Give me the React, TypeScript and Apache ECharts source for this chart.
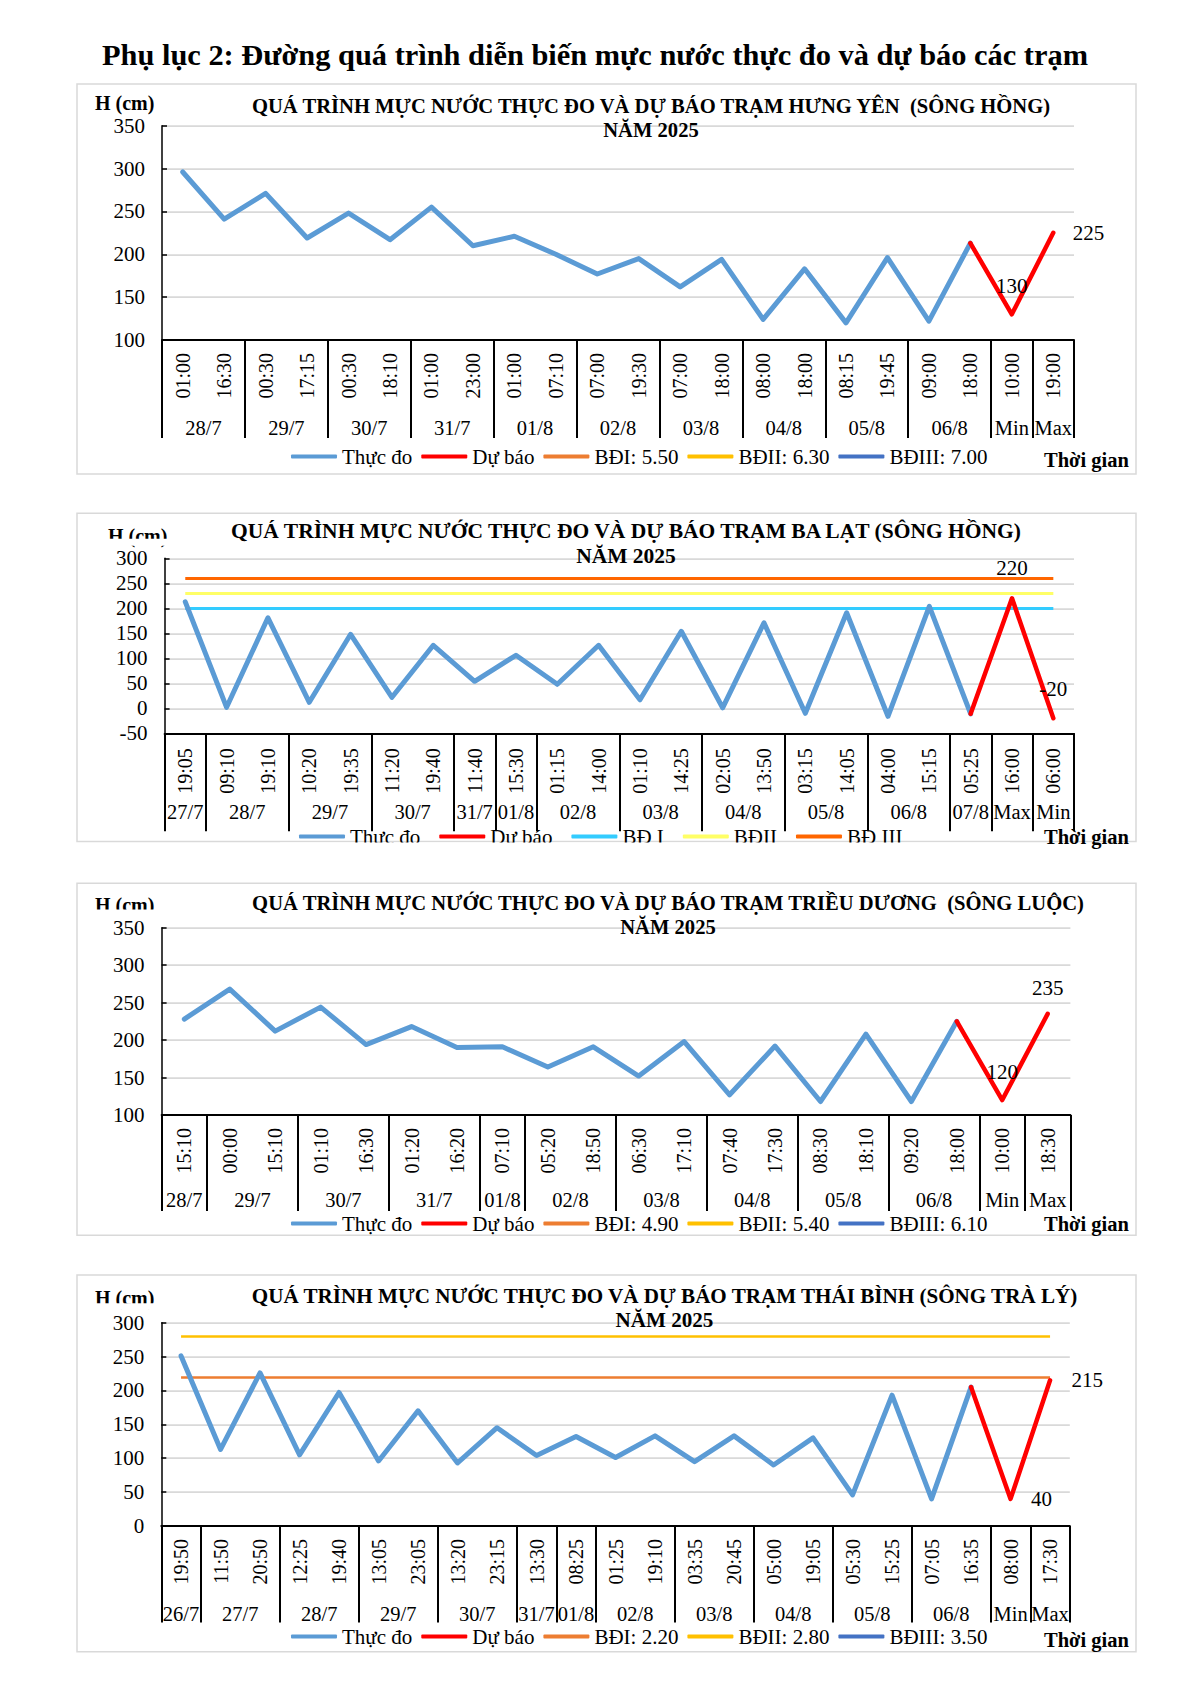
import React, { useEffect, useRef } from "react";
import * as echarts from "echarts";

const FONT = "'Liberation Serif', 'Times New Roman', serif";

const PAGE_TITLE = "Phụ lục 2: Đường quá trình diễn biến mực nước thực đo và dự báo các trạm";
const OBS_NAME = "Thực đo";
const FC_NAME = "Dự báo";
const X_NAME = "Thời gian";
const Y_NAME = "H (cm)";
const YEAR_LINE = "NĂM 2025";

// ---- Trạm Hưng Yên (sông Hồng)
const hyTitle = "QUÁ TRÌNH MỰC NƯỚC THỰC ĐO VÀ DỰ BÁO TRẠM HƯNG YÊN  (SÔNG HỒNG)";
const hyTimes = ["01:00", "16:30", "00:30", "17:15", "00:30", "18:10", "01:00", "23:00", "01:00", "07:10", "07:00", "19:30", "07:00", "18:00", "08:00", "18:00", "08:15", "19:45", "09:00", "18:00", "10:00", "19:00"];
const hyDates = ["28/7", "29/7", "30/7", "31/7", "01/8", "02/8", "03/8", "04/8", "05/8", "06/8", "Min", "Max"];
const hyDateSpans = [2, 2, 2, 2, 2, 2, 2, 2, 2, 2, 1, 1];
const hyObserved = [296, 241, 271, 219, 248, 217, 255, 210, 221, 200, 177, 195, 162, 194, 124, 183, 120, 196, 122, 213];
const hyForecast = [130, 225];
const hyLevelNames = ["BĐI: 5.50", "BĐII: 6.30", "BĐIII: 7.00"];
const hyLevelValues = [550, 630, 700];

// ---- Trạm Ba Lạt (sông Hồng)
const blTitle = "QUÁ TRÌNH MỰC NƯỚC THỰC ĐO VÀ DỰ BÁO TRẠM BA LẠT (SÔNG HỒNG)";
const blTimes = ["19:05", "09:10", "19:10", "10:20", "19:35", "11:20", "19:40", "11:40", "15:30", "01:15", "14:00", "01:10", "14:25", "02:05", "13:50", "03:15", "14:05", "04:00", "15:15", "05:25", "16:00", "06:00"];
const blDates = ["27/7", "28/7", "29/7", "30/7", "31/7", "01/8", "02/8", "03/8", "04/8", "05/8", "06/8", "07/8", "Max", "Min"];
const blDateSpans = [1, 2, 2, 2, 1, 1, 2, 2, 2, 2, 2, 1, 1, 1];
const blObserved = [213, 2, 181, 12, 148, 22, 126, 54, 106, 48, 126, 17, 154, 1, 171, -10, 191, -16, 204, -11];
const blForecast = [220, -20];
const blLevelNames = ["BĐ I", "BĐII", "BĐ III"];
const blLevelValues = [200, 230, 260];

// ---- Trạm Triều Dương (sông Luộc)
const tdTitle = "QUÁ TRÌNH MỰC NƯỚC THỰC ĐO VÀ DỰ BÁO TRẠM TRIỀU DƯƠNG  (SÔNG LUỘC)";
const tdTimes = ["15:10", "00:00", "15:10", "01:10", "16:30", "01:20", "16:20", "07:10", "05:20", "18:50", "06:30", "17:10", "07:40", "17:30", "08:30", "18:10", "09:20", "18:00", "10:00", "18:30"];
const tdDates = ["28/7", "29/7", "30/7", "31/7", "01/8", "02/8", "03/8", "04/8", "05/8", "06/8", "Min", "Max"];
const tdDateSpans = [1, 2, 2, 2, 1, 2, 2, 2, 2, 2, 1, 1];
const tdObserved = [228, 268, 212, 244, 194, 218, 190, 191, 164, 191, 152, 198, 127, 192, 118, 208, 118, 225];
const tdForecast = [120, 235];
const tdLevelNames = ["BĐI: 4.90", "BĐII: 5.40", "BĐIII: 6.10"];
const tdLevelValues = [490, 540, 610];

// ---- Trạm Thái Bình (sông Trà Lý)
const tbTitle = "QUÁ TRÌNH MỰC NƯỚC THỰC ĐO VÀ DỰ BÁO TRẠM THÁI BÌNH (SÔNG TRÀ LÝ)";
const tbTimes = ["19:50", "11:50", "20:50", "12:25", "19:40", "13:05", "23:05", "13:20", "23:15", "13:30", "08:25", "01:25", "19:10", "03:35", "20:45", "05:00", "19:05", "05:30", "15:25", "07:05", "16:35", "08:00", "17:30"];
const tbDates = ["26/7", "27/7", "28/7", "29/7", "30/7", "31/7", "01/8", "02/8", "03/8", "04/8", "05/8", "06/8", "Min", "Max"];
const tbDateSpans = [1, 2, 2, 2, 2, 1, 1, 2, 2, 2, 2, 2, 1, 1];
const tbObserved = [251, 113, 226, 105, 197, 96, 170, 93, 145, 104, 132, 101, 133, 95, 133, 90, 130, 46, 193, 40, 205];
const tbForecast = [40, 215];
const tbLevelNames = ["BĐI: 2.20", "BĐII: 2.80", "BĐIII: 3.50"];
const tbLevelValues = [220, 280, 350];

const STD_LEVEL_COLORS = ["#ED7D31", "#FFC000", "#4472C4"];
const BL_LEVEL_COLORS = ["#33CCFF", "#FFFF66", "#FF6600"];

const panels: any[] = [
  {
    title: hyTitle, times: hyTimes, dates: hyDates, spans: hyDateSpans, observed: hyObserved, forecast: hyForecast,
    levelNames: hyLevelNames, levelValues: hyLevelValues, levelColors: STD_LEVEL_COLORS, levelWidth: 2.5,
    yMin: 100, yMax: 350,
    grid: { left: 162, top: 125.7, width: 912, height: 214.3 },
    box: { x: 77, y: 84, w: 1059, h: 390 },
    titleX: 651, title1Y: 106, title2Y: 130, titleSize: 20.6,
    hX: 95, hY: 103, hClip: null,
    fcPos: ["top", "right"], fcDist: [17, 19],
    tickLen: 98, labelMargin: 13, dateOffset: 77,
    legendLeft: 286, legendTop: 441, legendGap: 9,
    xNameY: 460, legendClip: null,
  },
  {
    title: blTitle, times: blTimes, dates: blDates, spans: blDateSpans, observed: blObserved, forecast: blForecast,
    levelNames: blLevelNames, levelValues: blLevelValues, levelColors: BL_LEVEL_COLORS, levelWidth: 3,
    yMin: -50, yMax: 300,
    grid: { left: 164.6, top: 558.3, width: 909.4, height: 175 },
    box: { x: 77, y: 513.3, w: 1059, h: 328.2 },
    titleX: 626, title1Y: 531, title2Y: 556, titleSize: 21.5,
    hX: 108, hY: 535.5, hClip: { x: 100, y: 538.8, w: 75, h: 7 },
    fcPos: ["top", "top"], fcDist: [19, 18],
    tickLen: 98, labelMargin: 15, dateOffset: 68.4,
    legendLeft: 294, legendTop: 821, legendGap: 19,
    xNameY: 836.5, legendClip: { x: 280, y: 842.4, w: 730, h: 30 },
  },
  {
    title: tdTitle, times: tdTimes, dates: tdDates, spans: tdDateSpans, observed: tdObserved, forecast: tdForecast,
    levelNames: tdLevelNames, levelValues: tdLevelValues, levelColors: STD_LEVEL_COLORS, levelWidth: 2.5,
    yMin: 100, yMax: 350,
    grid: { left: 161.6, top: 927.7, width: 908.8, height: 187.3 },
    box: { x: 77, y: 883.3, w: 1059, h: 352 },
    titleX: 668, title1Y: 903, title2Y: 927, titleSize: 20.6,
    hX: 95, hY: 904.5, hClip: { x: 88, y: 909.5, w: 80, h: 7.5 },
    fcPos: ["top", "top"], fcDist: [17, 15],
    tickLen: 96, labelMargin: 13, dateOffset: 74,
    legendLeft: 286, legendTop: 1208, legendGap: 9,
    xNameY: 1223.5, legendClip: null,
  },
  {
    title: tbTitle, times: tbTimes, dates: tbDates, spans: tbDateSpans, observed: tbObserved, forecast: tbForecast,
    levelNames: tbLevelNames, levelValues: tbLevelValues, levelColors: STD_LEVEL_COLORS, levelWidth: 2.5,
    yMin: 0, yMax: 300,
    grid: { left: 161.3, top: 1322.7, width: 908.5, height: 203.3 },
    box: { x: 77, y: 1275, w: 1059, h: 376.7 },
    titleX: 664.5, title1Y: 1296, title2Y: 1320, titleSize: 21.1,
    hX: 95, hY: 1298, hClip: { x: 88, y: 1303.3, w: 80, h: 6.5 },
    fcPos: ["right", "right"], fcDist: [20, 21],
    tickLen: 96.5, labelMargin: 13, dateOffset: 77,
    legendLeft: 286, legendTop: 1621, legendGap: 9,
    xNameY: 1640, legendClip: null,
  },
];

function text(x: number, y: number, t: string, size: number, bold: boolean, align: string) {
  return {
    type: "text",
    x,
    y,
    z: 50,
    silent: true,
    style: {
      text: t,
      fontSize: size,
      fontFamily: FONT,
      fontWeight: bold ? "bold" : "normal",
      fill: "#000",
      textAlign: align,
      align,
      textVerticalAlign: "middle",
      verticalAlign: "middle",
    },
  };
}

function buildOption() {
  const grid: any[] = [];
  const xAxis: any[] = [];
  const yAxis: any[] = [];
  const series: any[] = [];
  const legend: any[] = [];
  const graphic: any[] = [text(595, 55, PAGE_TITLE, 30.4, true, "center")];

  panels.forEach((p, k) => {
    const n = p.times.length;
    grid.push({ ...p.grid, containLabel: false, outerBoundsMode: "none" });

    const starts: number[] = [];
    let acc = 0;
    p.spans.forEach((s: number) => {
      starts.push(acc);
      acc += s;
    });
    const slots: string[] = [];
    for (let i = 0; i <= 2 * n; i++) slots.push("");
    p.dates.forEach((d: string, g: number) => {
      slots[2 * starts[g] + p.spans[g]] = d;
    });

    xAxis.push({
      type: "category",
      gridIndex: k,
      data: p.times,
      boundaryGap: true,
      position: "bottom",
      axisLine: { show: true, onZero: false, lineStyle: { color: "#000", width: 2 } },
      axisTick: {
        show: true,
        interval: (i: number) => starts.indexOf(i) >= 0,
        length: p.tickLen,
        lineStyle: { color: "#000", width: 2 },
      },
      axisLabel: { interval: 0, rotate: 90, margin: p.labelMargin, fontSize: 20, fontFamily: FONT, color: "#000" },
      splitLine: { show: false },
    });
    xAxis.push({
      type: "category",
      gridIndex: k,
      data: slots,
      boundaryGap: false,
      position: "bottom",
      offset: p.dateOffset,
      axisLine: { show: false, onZero: false },
      axisTick: { show: false },
      axisLabel: { interval: 0, margin: 0, fontSize: 20.5, fontFamily: FONT, color: "#000" },
      splitLine: { show: false },
    });
    yAxis.push({
      type: "value",
      gridIndex: k,
      min: p.yMin,
      max: p.yMax,
      interval: 50,
      axisLine: { show: true, lineStyle: { color: "#000", width: 1.5 } },
      axisTick: { show: true, inside: true, length: 5, lineStyle: { color: "#000", width: 1.5 } },
      axisLabel: { margin: 17, fontSize: 21, fontFamily: FONT, color: "#000" },
      splitLine: { show: true, lineStyle: { color: "#D9D9D9", width: 1.75 } },
    });

    const last = p.observed.length - 1;
    const obs = p.times.map((_: string, i: number) => (i <= last ? p.observed[i] : null));
    const fc = p.times.map((_: string, i: number) => {
      if (i < last) return null;
      if (i === last) return { value: p.observed[last], label: { show: false } };
      const j = i - last - 1;
      return { value: p.forecast[j], label: { show: true, position: p.fcPos[j], distance: p.fcDist[j] } };
    });

    series.push({
      name: OBS_NAME,
      type: "line",
      xAxisIndex: 2 * k,
      yAxisIndex: k,
      data: obs,
      symbol: "none",
      silent: true,
      z: 3,
      itemStyle: { color: "#5B9BD5" },
      lineStyle: { color: "#5B9BD5", width: 5, cap: "round", join: "round" },
    });
    series.push({
      name: FC_NAME,
      type: "line",
      xAxisIndex: 2 * k,
      yAxisIndex: k,
      data: fc,
      symbol: "circle",
      symbolSize: 1,
      showSymbol: true,
      silent: true,
      z: 4,
      itemStyle: { color: "#FF0000" },
      lineStyle: { color: "#FF0000", width: 4.5, cap: "round", join: "round" },
      label: { show: false, fontSize: 21, fontFamily: FONT, color: "#000" },
    });

    p.levelNames.forEach((nm: string, li: number) => {
      const v = p.levelValues[li];
      const color = p.levelColors[li];
      const inRange = v >= p.yMin && v <= p.yMax;
      const s: any = {
        name: nm,
        type: "line",
        xAxisIndex: 2 * k,
        yAxisIndex: k,
        data: [],
        symbol: "none",
        silent: true,
        itemStyle: { color },
        lineStyle: { color, width: p.levelWidth },
      };
      if (inRange) {
        s.markLine = {
          silent: true,
          z: 1,
          symbol: ["none", "none"],
          label: { show: false },
          emphasis: { disabled: true },
          lineStyle: { color, width: p.levelWidth, type: "solid" },
          data: [[{ coord: [0, v] }, { coord: [n - 1, v] }]],
        };
      }
      series.push(s);
    });

    legend.push({
      left: p.legendLeft,
      top: p.legendTop,
      orient: "horizontal",
      padding: 5,
      itemWidth: 46,
      itemHeight: 4,
      itemGap: p.legendGap,
      icon: "roundRect",
      selectedMode: false,
      textStyle: { fontSize: 21, fontFamily: FONT, color: "#000" },
      data: [OBS_NAME, FC_NAME, ...p.levelNames],
    });

    graphic.push({
      type: "rect",
      z: 0,
      silent: true,
      shape: { x: p.box.x, y: p.box.y, width: p.box.w, height: p.box.h },
      style: { fill: "none", stroke: "#D9D9D9", lineWidth: 1.5 },
    });
    graphic.push(text(p.titleX, p.title1Y, p.title, p.titleSize, true, "center"));
    graphic.push(text(p.titleX, p.title2Y, YEAR_LINE, p.titleSize, true, "center"));
    graphic.push(text(p.hX, p.hY, Y_NAME, 20, true, "left"));
    graphic.push(text(1044, p.xNameY, X_NAME, 20.5, true, "left"));
    if (p.hClip) {
      graphic.push({
        type: "rect",
        z: 100,
        silent: true,
        shape: { x: p.hClip.x, y: p.hClip.y, width: p.hClip.w, height: p.hClip.h },
        style: { fill: "#fff", stroke: "none" },
      });
    }
    if (p.legendClip) {
      graphic.push({
        type: "rect",
        z: 100,
        silent: true,
        shape: { x: p.legendClip.x, y: p.legendClip.y, width: p.legendClip.w, height: p.legendClip.h },
        style: { fill: "#fff", stroke: "none" },
      });
    }
  });

  return {
    animation: false,
    backgroundColor: "#fff",
    textStyle: { fontFamily: FONT },
    grid,
    xAxis,
    yAxis,
    series,
    legend,
    graphic,
  };
}

export default function App() {
  const ref = useRef<HTMLDivElement>(null);
  useEffect(() => {
    const prevMargin = document.body.style.margin;
    document.body.style.margin = "0";
    if (!ref.current) return;
    const chart = echarts.init(ref.current, undefined, { renderer: "svg" });
    chart.setOption(buildOption() as any);
    return () => {
      chart.dispose();
      document.body.style.margin = prevMargin;
    };
  }, []);
  return <div ref={ref} style={{ width: 1200, height: 1696 }} />;
}
